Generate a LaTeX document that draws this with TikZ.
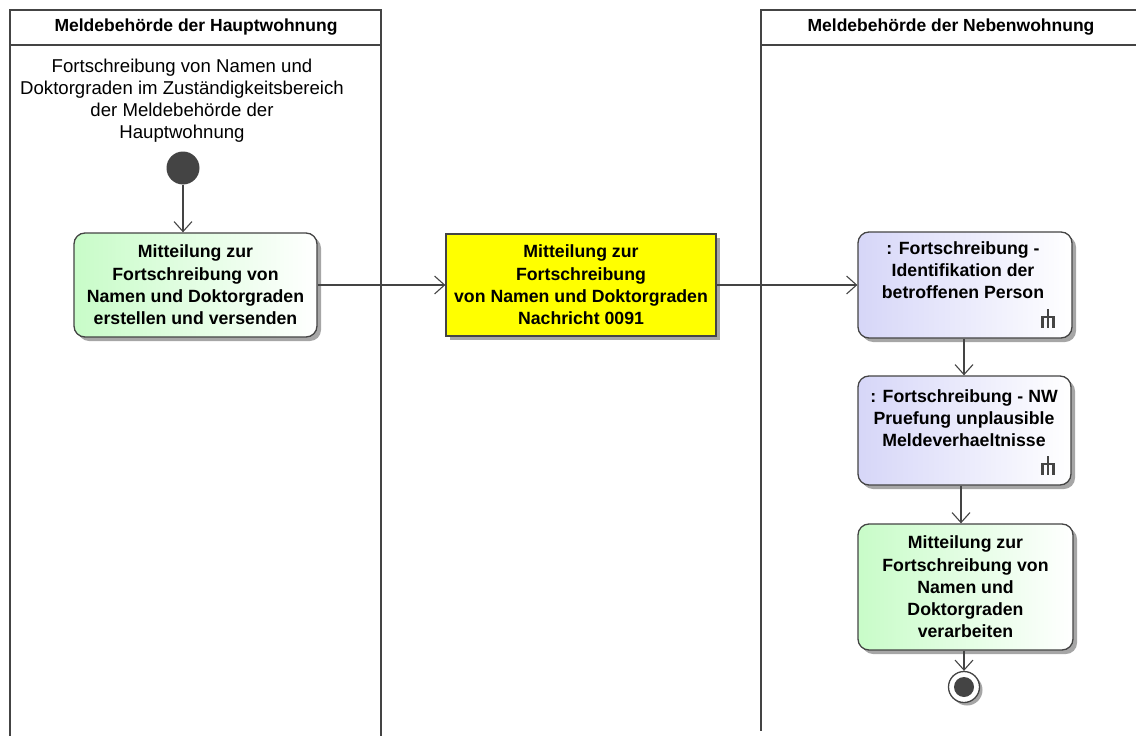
\documentclass[tikz,border=0pt]{standalone}
\usepackage{fontspec}
\setmainfont{Liberation Sans}
\usetikzlibrary{arrows.meta,shadows}
\definecolor{edge}{HTML}{444444}
\definecolor{greenfill}{HTML}{C8FCC8}
\definecolor{bluefill}{HTML}{D6D6F8}
\definecolor{yellowfill}{HTML}{FFFF00}
\tikzset{
  lane/.style={draw=edge, line width=1.5pt},
  lanethick/.style={draw=edge, line width=2.5pt},
  lanehead/.style={font=\bfseries\fontsize{17.5}{20}\selectfont, anchor=center},
  boxshadow/.style={drop shadow={shadow xshift=4pt, shadow yshift=-4pt, fill=black!35, opacity=1}},
  actgreen/.style={draw=edge, line width=1.3pt, rounded corners=11pt, left color=greenfill, right color=white, boxshadow},
  actblue/.style={draw=edge, line width=1.3pt, rounded corners=11pt, left color=bluefill, right color=white, boxshadow},
  msgbox/.style={draw=edge, line width=1.3pt, fill=yellowfill, boxshadow},
  boxtext/.style={font=\bfseries\fontsize{17.7}{22.3}\selectfont, align=center, inner sep=0pt},
  flow/.style={draw=edge, line width=1.1pt, -{Straight Barb[length=10pt, width=18pt, line width=1.1pt]}},
  rake/.style={draw=edge, line width=2.8pt},
}
\begin{document}
\begin{tikzpicture}[x=1pt, y=-1pt]
\useasboundingbox (0,0) rectangle (1136,736);
% lanes
\draw[lane] (10,736) -- (10,10) -- (381,10);
\draw[lanethick] (10,45) -- (381,45);
\draw[lanethick] (381,9) -- (381,736);
\node[lanehead] (h1) at (196,27.5) {Meldebehörde der Hauptwohnung};
\draw[lane] (1136,10) -- (761,10);
\draw[lanethick] (761,45) -- (1136,45);
\draw[lanethick] (761,9) -- (761,731);
\node[lanehead] (h2) at (951,27.5) {Meldebehörde der Nebenwohnung};
% description text
\node[align=center, font=\fontsize{18.6}{22}\selectfont, inner sep=0pt] (desc) at (182,101)
  {Fortschreibung von Namen und\\Doktorgraden im Zuständigkeitsbereich\\der Meldebehörde der\\Hauptwohnung};
% start
\node[circle, fill=edge, minimum size=33pt, inner sep=0pt] (start) at (183,168) {};
% activities
\node[actgreen, minimum width=243pt, minimum height=104pt, boxtext] (g1) at (195.5,285)
  {Mitteilung zur\\Fortschreibung von\\Namen und Doktorgraden\\erstellen und versenden};
\node[msgbox, minimum width=270pt, minimum height=102pt, boxtext] (msg) at (581,285)
  {Mitteilung zur\\Fortschreibung\\von Namen und Doktorgraden\\Nachricht 0091};
\node[actblue, minimum width=214pt, minimum height=106pt] (p1) at (965,285) {};
\node[boxtext] (p1t) at (963,270) {: Fortschreibung -\\Identifikation der\\betroffenen Person};
\node[actblue, minimum width=213pt, minimum height=109pt] (p2) at (964.5,430.5) {};
\node[boxtext] (p2t) at (964,418) {: Fortschreibung - NW\\Pruefung unplausible\\Meldeverhaeltnisse};
\node[actgreen, minimum width=215pt, minimum height=126pt, boxtext] (g2) at (965.5,587)
  {Mitteilung zur\\Fortschreibung von\\Namen und\\Doktorgraden\\verarbeiten};
% rake icons
\draw[rake] (1048,309) -- (1048,317) (1041.5,317) -- (1054.5,317) (1042.5,316) -- (1042.5,328) (1048,317) -- (1048,328) (1053.5,316) -- (1053.5,328);
\draw[rake] (1048,456) -- (1048,464) (1041.5,464) -- (1054.5,464) (1042.5,463) -- (1042.5,475) (1048,464) -- (1048,475) (1053.5,463) -- (1053.5,475);
% end
\node[circle, draw=edge, line width=1.3pt, fill=white, minimum size=31pt, inner sep=0pt,
      drop shadow={shadow xshift=3pt, shadow yshift=-3pt, fill=black!35, opacity=1}] (end) at (964,687) {};
\node[circle, fill=edge, minimum size=20pt, inner sep=0pt] (endin) at (end.center) {};
% flows
\draw[flow] (start) -- (start |- g1.north);
\draw[flow] (g1.east) -- (msg.west);
\draw[flow] (msg.east) -- (p1.west);
\draw[flow] (p1.south -| 964,0) -- (p2.north -| 964,0);
\draw[flow] (p2.south -| 961,0) -- (g2.north -| 961,0);
\draw[flow] (g2.south -| 964,0) -- (end.north);
\end{tikzpicture}
\end{document}
